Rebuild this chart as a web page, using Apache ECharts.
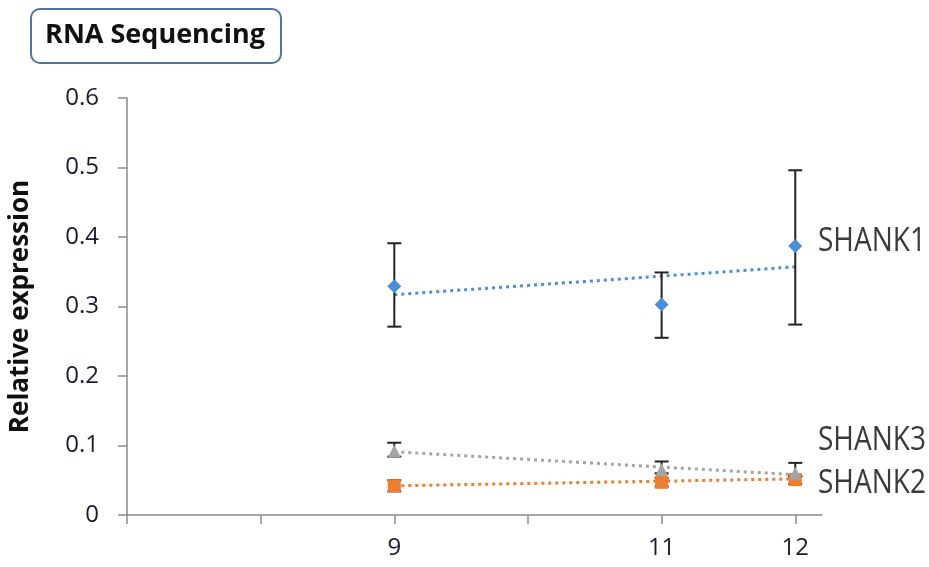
<!DOCTYPE html>
<html>
<head>
<meta charset="utf-8">
<script src="https://cdn.jsdelivr.net/npm/echarts@6/dist/echarts.min.js"></script>
<style>
  html, body { margin: 0; padding: 0; background: #fff; }
  #main { width: 929px; height: 567px; }
</style>
</head>
<body>
<div id="main"></div>
<script>
// time points (x) and mean values
const xValues = [9, 11, 12];
const shank1 = [0.329, 0.303, 0.387];
const shank2 = [0.042, 0.047, 0.051];
const shank3 = [0.092, 0.065, 0.060];

// error bar ranges [low, high]
const shank1Err = [[0.271, 0.391], [0.255, 0.349], [0.274, 0.496]];
const shank2Err = [[0.034, 0.050], [0.041, 0.053], [0.045, 0.056]];
const shank3Err = [[0.084, 0.104], [0.060, 0.077], [0.055, 0.075]];

// linear trendline ends (x = 9 and x = 12)
const trendX = [9, 12];
const trend1 = [0.317, 0.357];
const trend2 = [0.042, 0.052];
const trend3 = [0.091, 0.058];

const xTicks = [7, 8, 9, 10, 11, 12];
const xLabels = [9, 11, 12];

const blue = "#4a8fd8";
const orange = "#ed7d31";
const gray = "#a5a5a5";

function pts(ys) {
  return xValues.map((x, i) => [x, ys[i]]);
}
function errPts(errs) {
  return xValues.map((x, i) => [x, errs[i][0], errs[i][1]]);
}
function trendPts(ys) {
  return trendX.map((x, i) => [x, ys[i]]);
}

function errorSeries(errs) {
  return {
    type: "custom",
    data: errPts(errs),
    z: 3,
    renderItem(params, api) {
      const lo = api.coord([api.value(0), api.value(1)]);
      const hi = api.coord([api.value(0), api.value(2)]);
      const w = 7;
      const style = { stroke: "#222", lineWidth: 2 };
      return {
        type: "group",
        children: [
          { type: "line", shape: { x1: lo[0], y1: lo[1], x2: hi[0], y2: hi[1] }, style },
          { type: "line", shape: { x1: hi[0] - w, y1: hi[1], x2: hi[0] + w, y2: hi[1] }, style },
          { type: "line", shape: { x1: lo[0] - w, y1: lo[1], x2: lo[0] + w, y2: lo[1] }, style },
        ],
      };
    },
  };
}

function trendSeries(ys, color) {
  return {
    type: "line",
    data: trendPts(ys),
    symbol: "none",
    z: 2,
    lineStyle: { color, width: 3, type: [3, 4] },
  };
}

function pointSeries(ys, color, symbol, size) {
  return {
    type: "scatter",
    data: pts(ys),
    symbol,
    symbolSize: size,
    z: 5,
    itemStyle: { color, opacity: 1 },
  };
}

// series name tags on the right, slightly tall/narrow like the original
function nameTag(text, top) {
  return {
    type: "text",
    left: 818,
    top,
    scaleY: 1.15,
    style: { text, font: "28px 'Open Sans', sans-serif", fill: "#3a3a3a" },
  };
}

const chart = echarts.init(document.getElementById("main"));
const tickFont = "'Open Sans', sans-serif";

chart.setOption({
  animation: false,
  backgroundColor: "#fff",
  grid: { left: 123, right: 107, top: 98, bottom: 52 },
  xAxis: {
    type: "value",
    min: 7,
    max: 12.2,
    interval: 1,
    splitLine: { show: false },
    axisLine: { lineStyle: { color: "#8a8a8a", width: 1.5 } },
    axisTick: { show: true, length: 9, customValues: xTicks, lineStyle: { color: "#8a8a8a", width: 1.5 } },
    axisLabel: {
      customValues: xLabels,
      margin: 21,
      fontSize: 24,
      color: "#1a1a30",
      fontFamily: tickFont,
    },
  },
  yAxis: {
    type: "value",
    min: 0,
    max: 0.6,
    interval: 0.1,
    name: "Relative expression",
    nameLocation: "middle",
    nameGap: 93,
    nameTextStyle: { fontSize: 26, fontWeight: "bold", color: "#111", fontFamily: "'Open Sans', sans-serif" },
    splitLine: { show: false },
    axisLine: { show: true, lineStyle: { color: "#8a8a8a", width: 1.5 } },
    axisTick: { show: true, length: 9, lineStyle: { color: "#8a8a8a", width: 1.5 } },
    axisLabel: {
      margin: 28,
      fontSize: 24,
      color: "#1a1a30",
      fontFamily: tickFont,
    },
  },
  graphic: [
    {
      type: "rect",
      left: 30,
      top: 8,
      shape: { width: 250, height: 54, r: 9 },
      style: { fill: "#fff", stroke: "#4f74a3", lineWidth: 2 },
    },
    {
      type: "text",
      x: 155,
      y: 35,
      style: {
        text: "RNA Sequencing",
        font: "bold 27px 'Open Sans', sans-serif",
        fill: "#111",
        align: "center",
        verticalAlign: "middle",
      },
    },
    nameTag("SHANK1", 226),
    nameTag("SHANK3", 425),
    nameTag("SHANK2", 468),
  ],
  series: [
    trendSeries(trend1, blue),
    trendSeries(trend2, orange),
    trendSeries(trend3, gray),
    errorSeries(shank1Err),
    errorSeries(shank2Err),
    errorSeries(shank3Err),
    pointSeries(shank1, blue, "diamond", 14),
    pointSeries(shank2, orange, "rect", 13),
    pointSeries(shank3, gray, "triangle", 13),
  ],
});
</script>
</body>
</html>
